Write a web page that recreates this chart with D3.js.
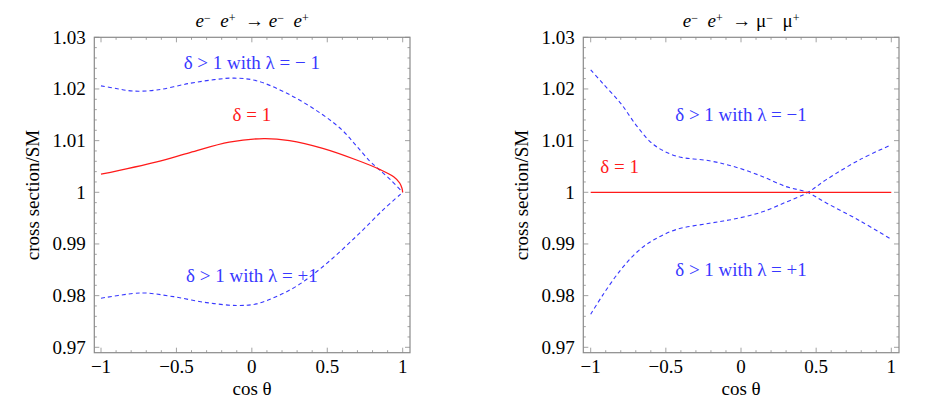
<!DOCTYPE html>
<html>
<head>
<meta charset="utf-8">
<script src="https://cdnjs.cloudflare.com/ajax/libs/d3/7.8.5/d3.min.js"></script>
<style>
body { margin:0; background:#fff; }
</style>
</head>
<body>
<div id="graph"></div>
<script>
// values: [cos theta, cross section / SM]
var xTicks = [-1, -0.5, 0, 0.5, 1]
var xTickLabels = ["\u22121", "\u22120.5", "0", "0.5", "1"]
var yTicks = [0.97, 0.98, 0.99, 1, 1.01, 1.02, 1.03]
var yTickLabels = ["0.97", "0.98", "0.99", "1", "1.01", "1.02", "1.03"]

var bhabhaMinus = [[-1, 1.0206], [-0.9, 1.0201], [-0.79, 1.0196], [-0.63, 1.0198], [-0.41, 1.0211],
	[-0.25, 1.0218], [-0.12, 1.0221], [0.03, 1.0216], [0.25, 1.0189], [0.47, 1.0150], [0.6, 1.0120],
	[0.69, 1.0091], [0.78, 1.0061], [0.84, 1.0045], [0.92, 1.0024], [1, 1.0]]
var bhabhaDelta1 = [[-1, 1.0035], [-0.63, 1.0059], [-0.41, 1.0077], [-0.15, 1.0097], [0.08, 1.0104],
	[0.25, 1.0100], [0.47, 1.0085], [0.69, 1.0063], [0.85, 1.0044], [0.94, 1.0030], [0.98, 1.0018],
	[0.995, 1.0008], [1, 1.0]]
var bhabhaPlus = [[-1, 0.9795], [-0.79, 0.9804], [-0.7, 0.9805], [-0.52, 0.9798], [-0.3, 0.97865],
	[-0.1, 0.9781], [0.03, 0.9784], [0.16, 0.9798], [0.3, 0.9819], [0.47, 0.9856], [0.69, 0.9914],
	[0.87, 0.9966], [1, 1.0]]

var muonMinus = [[-1, 1.0237], [-0.92, 1.0211], [-0.8, 1.0172], [-0.69, 1.0127], [-0.58, 1.0092],
	[-0.43, 1.0070], [-0.21, 1.0061], [-0.05, 1.0050], [0.13, 1.0032], [0.3, 1.0011], [0.44, 1.0],
	[0.57, 0.9979], [0.79, 0.9945], [1, 0.9909]]
var muonDelta1 = [[-1, 1.0], [1, 1.0]]
var muonPlus = [[-1, 0.9764], [-0.92, 0.9801], [-0.8, 0.9850], [-0.69, 0.9885], [-0.58, 0.9908],
	[-0.43, 0.9928], [-0.21, 0.9940], [-0.05, 0.9948], [0.13, 0.9961], [0.3, 0.9981], [0.44, 0.9999],
	[0.57, 1.0025], [0.79, 1.0063], [1, 1.0092]]

var blue = "#3838ff"
var red = "#ff1a1a"
var frameColor = "#8a8a8a"
var serif = "'Liberation Serif', 'Times New Roman', Times, 'DejaVu Serif', serif"

var width = 926, height = 412
var svg = d3.select("#graph").append("svg")
	.attr("width", width).attr("height", height)
	.attr("font-family", serif)
	.style("font-family", serif)

drawPanel({
	left: 94.3, right: 410, x0: 101, x1: 402.7,
	title: [["e", "italic"], ["\u2212", "sup"], ["  "], ["e", "italic"], ["+", "sup"], ["  \u2192 "], ["e", "italic"], ["\u2212", "sup"], ["  "], ["e", "italic"], ["+", "sup"]],
	series: [
		{ data: bhabhaMinus, color: blue, dash: "4,3" },
		{ data: bhabhaPlus, color: blue, dash: "4,3" },
		{ data: bhabhaDelta1, color: red, dash: null }
	],
	labels: [
		{ text: "\u03b4 > 1 with \u03bb = \u2212 1", x: 0, y: 1.0252, color: blue },
		{ text: "\u03b4 = 1", x: 0, y: 1.0151, color: red },
		{ text: "\u03b4 > 1 with \u03bb = +1", x: 0, y: 0.9840, color: blue }
	]
})

drawPanel({
	left: 583.3, right: 899, x0: 590.7, x1: 891.3,
	title: [["e", "italic"], ["\u2212", "sup"], ["  "], ["e", "italic"], ["+", "sup"], ["  \u2192 \u03bc"], ["\u2212", "sup"], ["  \u03bc"], ["+", "sup"]],
	series: [
		{ data: muonMinus, color: blue, dash: "4,3" },
		{ data: muonPlus, color: blue, dash: "4,3" },
		{ data: muonDelta1, color: red, dash: null }
	],
	labels: [
		{ text: "\u03b4 > 1 with \u03bb = \u22121", x: 0, y: 1.0151, color: blue },
		{ text: "\u03b4 = 1", x: -0.807, y: 1.0051, color: red },
		{ text: "\u03b4 > 1 with \u03bb = +1", x: 0, y: 0.9851, color: blue }
	]
})

function drawPanel(p) {
	var top = 37.3, bottom = 352.7
	var x = d3.scaleLinear().domain([-1, 1]).range([p.x0, p.x1])
	var y = d3.scaleLinear().domain([0.97, 1.03]).range([347.3, 37.3])
	var g = svg.append("g").attr("font-family", serif)

	// minor and major ticks on all four sides, pointing inwards
	var xMinor = d3.range(-10, 11).map(function(i) { return i / 10 })
	var yMinor = d3.range(485, 516).map(function(i) { return i / 500 })
	var isMajorX = function(v) { return Math.abs(v * 2 - Math.round(v * 2)) < 1e-6 }
	var isMajorY = function(v) { return Math.abs(v * 100 - Math.round(v * 100)) < 1e-6 }
	var ticks = g.append("g").attr("stroke", frameColor).attr("stroke-width", 0.8)
	xMinor.forEach(function(v) {
		var len = isMajorX(v) ? 5 : 2.5
		ticks.append("line").attr("x1", x(v)).attr("x2", x(v)).attr("y1", bottom).attr("y2", bottom - len)
		ticks.append("line").attr("x1", x(v)).attr("x2", x(v)).attr("y1", top).attr("y2", top + len)
	})
	yMinor.forEach(function(v) {
		if (y(v) < top - 0.5 || y(v) > bottom + 0.5) return
		var len = isMajorY(v) ? 5 : 2.5
		ticks.append("line").attr("x1", p.left).attr("x2", p.left + len).attr("y1", y(v)).attr("y2", y(v))
		ticks.append("line").attr("x1", p.right).attr("x2", p.right - len).attr("y1", y(v)).attr("y2", y(v))
	})

	g.append("rect")
		.attr("x", p.left).attr("y", top)
		.attr("width", p.right - p.left).attr("height", bottom - top)
		.attr("fill", "none").attr("stroke", frameColor).attr("stroke-width", 1.2)

	g.append("g").selectAll("text").data(xTicks).enter().append("text")
		.attr("x", function(d) { return x(d) })
		.attr("y", bottom + 20.5)
		.attr("text-anchor", "middle")
		.attr("font-size", 19)
		.text(function(d, i) { return xTickLabels[i] })

	g.append("g").selectAll("text").data(yTicks).enter().append("text")
		.attr("x", p.left - 8.5)
		.attr("y", function(d) { return y(d) })
		.attr("dy", "0.34em")
		.attr("text-anchor", "end")
		.attr("font-size", 19)
		.text(function(d, i) { return yTickLabels[i] })

	var line = d3.line()
		.x(function(d) { return x(d[0]) })
		.y(function(d) { return y(d[1]) })
		.curve(d3.curveCatmullRom.alpha(0.5))

	p.series.forEach(function(s) {
		g.append("path")
			.datum(s.data)
			.attr("d", line)
			.attr("fill", "none")
			.attr("stroke", s.color)
			.attr("stroke-width", s.dash ? 1.1 : 1.3)
			.attr("stroke-dasharray", s.dash)
	})

	p.labels.forEach(function(l) {
		g.append("text")
			.attr("x", x(l.x)).attr("y", y(l.y))
			.attr("dy", "0.35em")
			.attr("text-anchor", "middle")
			.attr("font-size", 19)
			.attr("fill", l.color)
			.text(l.text)
	})

	var cx = (p.left + p.right) / 2
	var title = g.append("text")
		.attr("x", cx).attr("y", 27)
		.attr("text-anchor", "middle")
		.attr("font-size", 19)
		.attr("xml:space", "preserve")
	p.title.forEach(function(t) {
		var span = title.append("tspan").text(t[0])
		if (t[1] == "italic") span.attr("font-style", "italic")
		if (t[1] == "sup") span.attr("font-size", 12).attr("baseline-shift", "45%")
	})

	g.append("text")
		.attr("x", cx).attr("y", 395)
		.attr("text-anchor", "middle")
		.attr("font-size", 19)
		.text("cos \u03b8")

	g.append("text")
		.attr("transform", "translate(" + (p.left - 55.5) + "," + ((top + bottom) / 2) + ") rotate(-90)")
		.attr("text-anchor", "middle")
		.attr("font-size", 19)
		.text("cross section/SM")
}
</script>
</body>
</html>
